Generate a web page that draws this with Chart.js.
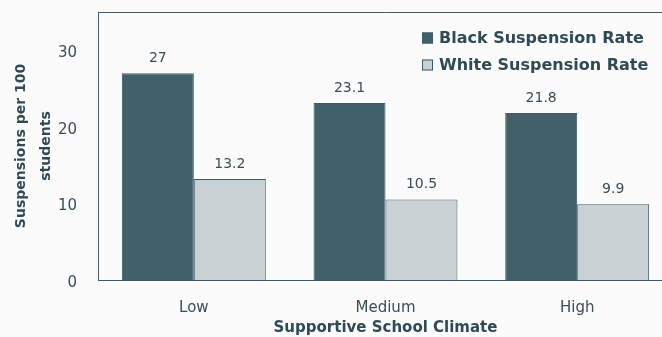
<!DOCTYPE html>
<html>
<head>
<meta charset="utf-8">
<script src="https://cdn.jsdelivr.net/npm/chart.js@4.4.1/dist/chart.umd.min.js"></script>
<style>
  html, body { margin: 0; padding: 0; background: #fbfbfb; overflow: hidden; }
  #wrap { position: relative; width: 673px; height: 337px; }
</style>
</head>
<body>
<div id="wrap"><canvas id="c"></canvas></div>
<script>
const categories = ['Low', 'Medium', 'High'];
const blackRates = [27, 23.1, 21.8];
const whiteRates = [13.2, 10.5, 9.9];
const seriesNames = ['Black Suspension Rate', 'White Suspension Rate'];
const yTicks = [0, 10, 20, 30];
const xTitle = 'Supportive School Climate';
const yTitle = ['Suspensions per 100', 'students'];

const DARK = '#41606a';
const LIGHT = '#c9d1d4';
const EDGE = '#3e5b65';
const TEXT = '#2f4a55';
const FONT = "'DejaVu Sans', 'Liberation Sans', Arial, sans-serif";

const valueLabels = {
  id: 'valueLabels',
  afterDatasetsDraw(chart) {
    const ctx = chart.ctx;
    ctx.save();
    ctx.font = '14px ' + FONT;
    ctx.fillStyle = '#3a4e57';
    ctx.textAlign = 'center';
    ctx.textBaseline = 'middle';
    chart.data.datasets.forEach((ds, di) => {
      const meta = chart.getDatasetMeta(di);
      meta.data.forEach((bar, i) => {
        ctx.fillText(String(ds.data[i]), bar.x, bar.y - 15);
      });
    });
    ctx.restore();
  }
};

const frameAndLegend = {
  id: 'frameAndLegend',
  afterDraw(chart) {
    const ctx = chart.ctx;
    const a = chart.chartArea;
    ctx.save();
    ctx.strokeStyle = EDGE;
    ctx.lineWidth = 1;
    ctx.beginPath();
    ctx.moveTo(a.left, a.top + 0.5);
    ctx.lineTo(a.right, a.top + 0.5);
    ctx.stroke();
    // legend
    ctx.font = 'bold 16px ' + FONT;
    ctx.textBaseline = 'middle';
    ctx.textAlign = 'left';
    chart.data.datasets.forEach((ds, i) => {
      const y = 38 + i * 27;
      ctx.fillStyle = ds.backgroundColor;
      ctx.fillRect(422, y - 5.5, 11, 11);
      ctx.strokeStyle = EDGE;
      ctx.strokeRect(422.5, y - 5, 10, 10);
      ctx.fillStyle = TEXT;
      ctx.fillText(ds.label, 439, y + 0.5);
    });
    ctx.restore();
  }
};

new Chart(document.getElementById('c'), {
  type: 'bar',
  data: {
    labels: categories,
    datasets: [
      { label: seriesNames[0], data: blackRates, backgroundColor: DARK, borderColor: EDGE, borderWidth: 1 },
      { label: seriesNames[1], data: whiteRates, backgroundColor: LIGHT, borderColor: EDGE, borderWidth: 1 }
    ]
  },
  options: {
    responsive: true,
    maintainAspectRatio: false,
    animation: false,
    layout: { padding: { top: 12, right: 0, left: 0, bottom: 0 } },
    datasets: { bar: { categoryPercentage: 0.751, barPercentage: 1.0 } },
    plugins: { legend: { display: false }, tooltip: { enabled: false } },
    scales: {
      x: {
        grid: { display: false },
        border: { display: true, color: EDGE, width: 1 },
        ticks: { color: '#3a4e57', font: { family: FONT, size: 15 }, padding: 11 },
        title: { display: true, text: xTitle, color: TEXT, font: { family: FONT, size: 15, weight: 'bold' }, padding: { top: 0, bottom: 0 } },
        afterFit(s) { s.height = 57; s.paddingLeft = 0; s.paddingRight = 0; }
      },
      y: {
        min: 0, max: 35,
        grid: { display: false },
        border: { display: true, color: EDGE, width: 1 },
        afterBuildTicks(s) { s.ticks = yTicks.map(v => ({ value: v })); },
        ticks: { color: '#3a4e57', font: { family: FONT, size: 15 }, padding: 13, labelOffset: 3 },
        title: { display: true, text: yTitle, color: TEXT, font: { family: FONT, size: 14, weight: 'bold', lineHeight: 1.8 }, padding: { top: 9, bottom: 0 } },
        afterFit(s) { s.width = 98; s.paddingTop = 0; s.paddingBottom = 0; }
      }
    }
  },
  plugins: [valueLabels, frameAndLegend]
});
</script>
</body>
</html>
